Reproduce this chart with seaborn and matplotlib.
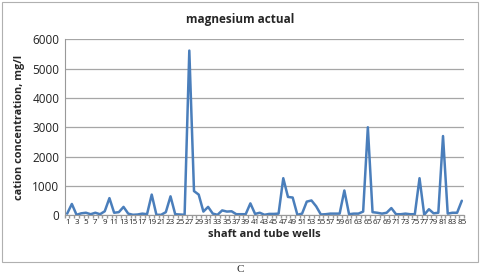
import numpy as np
import pandas as pd
import matplotlib
matplotlib.use("Agg")
import matplotlib.pyplot as plt
import seaborn as sns
from matplotlib.patches import Rectangle

# magnesium concentration per well (mg/l)
wells = list(range(1, 86))
magnesium = [
    50, 380, 10, 60, 80, 30, 80, 30, 130, 580,
    80, 100, 280, 50, 10, 20, 50, 30, 700, 10,
    10, 100, 640, 30, 20, 10, 5620, 820, 700, 120,
    280, 50, 10, 160, 120, 130, 30, 30, 30, 400,
    40, 80, 10, 40, 40, 50, 1260, 620, 600, 10,
    50, 460, 500, 300, 20, 30, 50, 50, 50, 840,
    30, 50, 50, 120, 3000, 100, 80, 50, 80, 240,
    30, 30, 50, 30, 30, 1260, 10, 200, 60, 80,
    2700, 50, 80, 80, 490,
]
tick_labels = [str(w) for w in wells if w % 2 == 1]

df = pd.DataFrame({"well": wells, "mg": magnesium})

sns.set_theme(style="white")
plt.rcParams["font.family"] = ["Open Sans", "DejaVu Sans"]

fig = plt.figure(figsize=(4.8, 2.74), dpi=100)
ax = fig.add_axes([0.135, 0.215, 0.832, 0.641])

sns.lineplot(data=df, x="well", y="mg", color="#4a7ebb", linewidth=1.8, ax=ax)

ax.set_xlim(0.5, 85.5)
ax.set_ylim(0, 6000)
ax.set_yticks(range(0, 6001, 1000))
ax.set_xticks([w for w in wells if w % 2 == 1])
ax.set_xticklabels(tick_labels, fontsize=5.8, color="#222222")
ax.set_xticks(np.arange(0.5, 86, 1), minor=True)
ax.tick_params(axis="x", which="major", length=0, pad=3)
ax.tick_params(axis="x", which="minor", length=2, color="#999999", bottom=True)
ax.tick_params(axis="y", labelsize=8.5, length=0, pad=4, labelcolor="#222222")
ax.yaxis.grid(True, color="#a6a6a6", linewidth=0.9)
for s in ["top", "right"]:
    ax.spines[s].set_visible(False)
for s in ["left", "bottom"]:
    ax.spines[s].set_color("#999999")
    ax.spines[s].set_linewidth(0.8)

ax.set_xlabel("shaft and tube wells", fontsize=8, fontweight="bold", labelpad=2)
ax.set_ylabel("cation concentration, mg/l", fontsize=7.8, fontweight="bold", labelpad=5)
fig.text(0.5, 0.93, "magnesium actual", ha="center", va="center",
         fontsize=8.5, fontweight="bold")

fig.patches.append(Rectangle((0.004, 0.044), 0.992, 0.95, transform=fig.transFigure,
                             fill=False, edgecolor="#b0b0b0", linewidth=0.8))
fig.text(0.5, 0.018, "C", ha="center", va="center", fontsize=8,
         family=["Liberation Serif"])

fig.savefig("out.png", dpi=100)
